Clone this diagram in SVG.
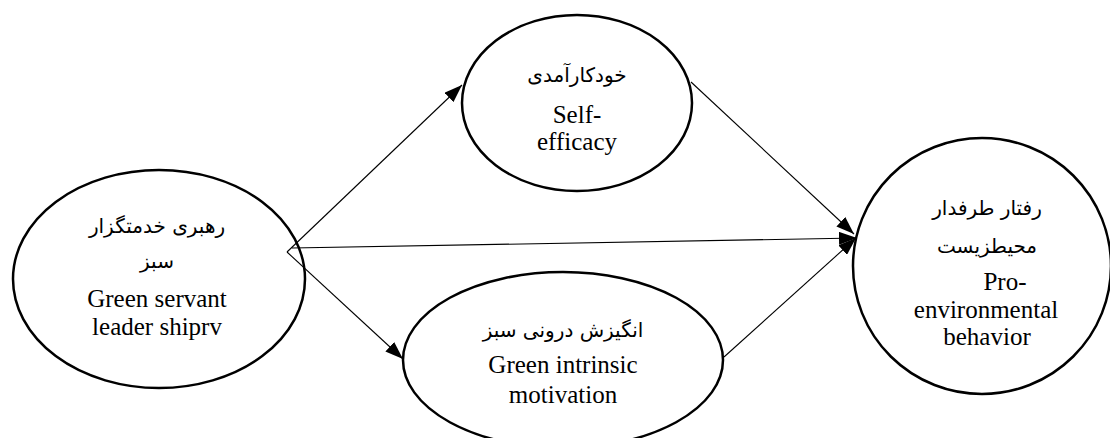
<svg xmlns="http://www.w3.org/2000/svg" width="1110" height="438" viewBox="0 0 1110 438">
<defs>
<marker id="ah" viewBox="0 0 18 13" refX="18" refY="6.5" markerWidth="18" markerHeight="13" markerUnits="userSpaceOnUse" orient="auto">
<path d="M0,0 L18,6.5 L0,13 Z" fill="#000"/>
</marker>
</defs>
<style>
.node{fill:#fff;stroke:#000;stroke-width:2.5}
.en{font-family:'Liberation Serif','DejaVu Serif',serif;font-size:25px;fill:#000;text-anchor:middle}
.fa{font-family:'DejaVu Sans',sans-serif;font-size:20px;fill:#000;text-anchor:middle}
.edge{stroke:#000;stroke-width:1.1;fill:none}
</style>
<rect width="1110" height="438" fill="#fff"/>
<g id="connectors">
<line class="edge" x1="287" y1="252" x2="462" y2="85" marker-end="url(#ah)"/>
<line class="edge" x1="287" y1="252" x2="403" y2="359" marker-end="url(#ah)"/>
<line class="edge" x1="292" y1="248" x2="857" y2="238" marker-end="url(#ah)"/>
<line class="edge" x1="691" y1="82" x2="854" y2="234" marker-end="url(#ah)"/>
<line class="edge" x1="724" y1="357" x2="856" y2="238" marker-end="url(#ah)"/>
</g>
<g id="leadership">
<ellipse class="node" cx="159" cy="279" rx="146" ry="109" style="fill:none"/>
<text class="fa" x="157" y="233" direction="rtl" font-family="DejaVu Sans, sans-serif">رهبری خدمتگزار</text>
<text class="fa" x="157" y="268" direction="rtl" font-family="DejaVu Sans, sans-serif">سبز</text>
<text class="en" x="157" y="307" font-family="Liberation Serif, DejaVu Serif, serif">Green servant</text>
<text class="en" x="157" y="335" font-family="Liberation Serif, DejaVu Serif, serif">leader shiprv</text>
</g>
<g id="self-efficacy">
<ellipse class="node" cx="577" cy="103" rx="115" ry="88"/>
<text class="fa" x="577" y="82" direction="rtl" font-family="DejaVu Sans, sans-serif">خودکارآمدی</text>
<text class="en" x="577" y="123" font-family="Liberation Serif, DejaVu Serif, serif">Self-</text>
<text class="en" x="577" y="150" font-family="Liberation Serif, DejaVu Serif, serif">efficacy</text>
</g>
<g id="motivation">
<ellipse class="node" cx="563" cy="360" rx="160" ry="88"/>
<text class="fa" x="563" y="337" direction="rtl" font-family="DejaVu Sans, sans-serif">انگیزش درونی سبز</text>
<text class="en" x="563" y="373" font-family="Liberation Serif, DejaVu Serif, serif">Green intrinsic</text>
<text class="en" x="563" y="403" font-family="Liberation Serif, DejaVu Serif, serif">motivation</text>
</g>
<g id="pro-environmental">
<ellipse class="node" cx="982" cy="266" rx="129" ry="128"/>
<text class="fa" x="987" y="215" direction="rtl" font-family="DejaVu Sans, sans-serif">رفتار طرفدار</text>
<text class="fa" x="987" y="253" direction="rtl" font-family="DejaVu Sans, sans-serif">محیطزیست</text>
<text class="en" x="1005" y="290" font-family="Liberation Serif, DejaVu Serif, serif">Pro-</text>
<text class="en" x="986" y="318" font-family="Liberation Serif, DejaVu Serif, serif">environmental</text>
<text class="en" x="987" y="345" font-family="Liberation Serif, DejaVu Serif, serif">behavior</text>
</g>
</svg>
